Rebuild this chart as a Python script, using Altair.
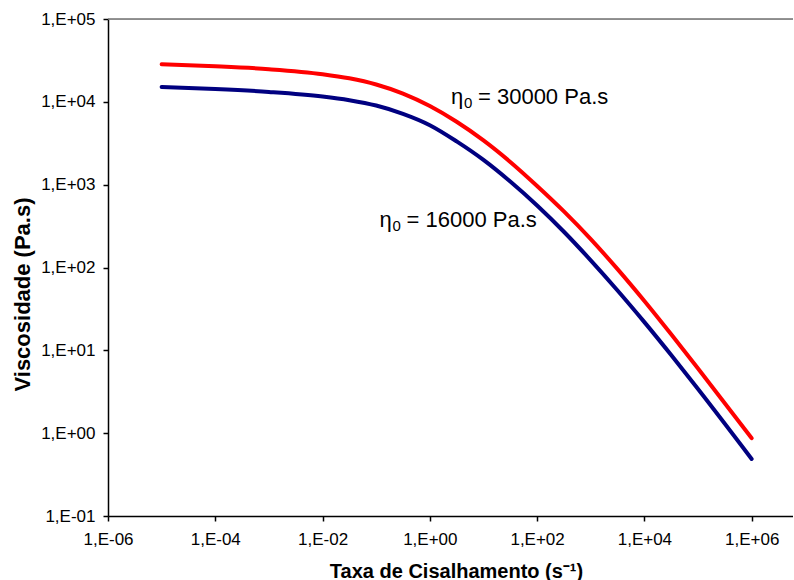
import altair as alt
import pandas as pd

# Shear rate (s^-1)
shear = [1e-5, 1e-4, 1e-3, 1e-2, 0.0316, 0.1, 0.316, 1, 3.16, 10, 31.6, 100, 316,
         1000, 3160, 1e4, 31600, 1e5, 1e6]
# Viscosity (Pa.s)
visc_30000 = [28440, 26850, 24770, 21580, 19230, 16180, 12560, 8890, 5740, 3420,
              1880, 964, 475, 220, 95.5, 39.4, 15.6, 6.03, 0.871]
visc_16000 = [15140, 14290, 13180, 11610, 10470, 9020, 7160, 5220, 3330, 1990,
              1090, 560, 270, 122, 52.8, 21.9, 8.77, 3.41, 0.488]
series_names = ["30000", "16000"]
series_colors = ["#FF0000", "#000080"]

x_ticks = [1e-6, 1e-4, 1e-2, 1, 1e2, 1e4, 1e6]
y_ticks = [1e-1, 1, 10, 100, 1e3, 1e4, 1e5]

ann_text = ["= 30000 Pa.s", "= 16000 Pa.s"]
ann_x = [7.9, 0.369]
ann_y = [11450, 373]

rows = []
for name, vals in zip(series_names, [visc_30000, visc_16000]):
    for s, v in zip(shear, vals):
        rows.append({"shear": s, "visc": v, "series": name})
df = pd.DataFrame(rows)
ann = pd.DataFrame({"x": ann_x, "y": ann_y, "text": ann_text})

FONT = "Liberation Sans"
label_expr = ("'1,E' + (round(log(datum.value)/LN10) < 0 ? '-' : '+') + "
              "(abs(round(log(datum.value)/LN10)) < 10 ? '0' : '') + "
              "abs(round(log(datum.value)/LN10))")

W, H = 685, 497
xscale = alt.Scale(type="log", domain=[1e-6, 5.9e6], nice=False)
yscale = alt.Scale(type="log", domain=[0.1, 1e5], nice=False)

xaxis = alt.Axis(values=x_ticks, labelExpr=label_expr, grid=False,
                 title="Taxa de Cisalhamento (s⁻¹)", titleFont=FONT,
                 titleFontSize=20, titleFontWeight="bold", titleColor="black",
                 titleX=348, titleY=55, titleBaseline="middle", titleAlign="center",
                 labelFont=FONT, labelFontSize=17, labelColor="black",
                 labelPadding=10, tickSize=5, tickColor="black", tickWidth=1.5,
                 domainColor="black", domainWidth=1.5, labelFlush=False)
yaxis = alt.Axis(values=y_ticks, labelExpr=label_expr, grid=False,
                 title="Viscosidade (Pa.s)", titleFont=FONT,
                 titleFontSize=22, titleFontWeight="bold", titleColor="black",
                 titleX=-86, titleY=275, titleAngle=-90, titleBaseline="middle",
                 titleAlign="center",
                 labelFont=FONT, labelFontSize=17, labelColor="black",
                 labelPadding=8, tickSize=5, tickColor="black", tickWidth=1.5,
                 domainColor="black", domainWidth=1.5, labelFlush=False)

lines = alt.Chart(df).mark_line(strokeWidth=4, strokeCap="round",
                                interpolate="monotone").encode(
    x=alt.X("shear:Q", scale=xscale, axis=xaxis),
    y=alt.Y("visc:Q", scale=yscale, axis=yaxis),
    color=alt.Color("series:N", scale=alt.Scale(domain=series_names, range=series_colors),
                    legend=None),
    detail="series:N",
)

top_border = alt.Chart(pd.DataFrame({"a": [0]})).mark_rule(
    color="#707070", strokeWidth=1.5).encode(
    x=alt.value(0), x2=alt.value(W), y=alt.value(0))

base_ann = alt.Chart(ann).encode(
    x=alt.X("x:Q", scale=xscale), y=alt.Y("y:Q", scale=yscale))
t_main = base_ann.mark_text(align="left", baseline="middle", font=FONT,
                            fontSize=22, color="black").encode(text="text:N")
t_eta = base_ann.mark_text(align="left", baseline="middle", font=FONT,
                           fontSize=22, color="black", dx=-27).encode(text=alt.value("η"))
t_sub = base_ann.mark_text(align="left", baseline="middle", font=FONT,
                           fontSize=15, color="black", dx=-14, dy=6).encode(text=alt.value("0"))

chart = alt.layer(top_border, lines, t_main, t_eta, t_sub).properties(
    width=W, height=H,
    autosize=alt.AutoSizeParams(type="none"),
    padding={"left": 108, "top": 19, "right": 0, "bottom": 64},
).configure_view(stroke=None).configure(background="white")

chart.save("out.html", embed_options={"renderer": "svg", "actions": False})
